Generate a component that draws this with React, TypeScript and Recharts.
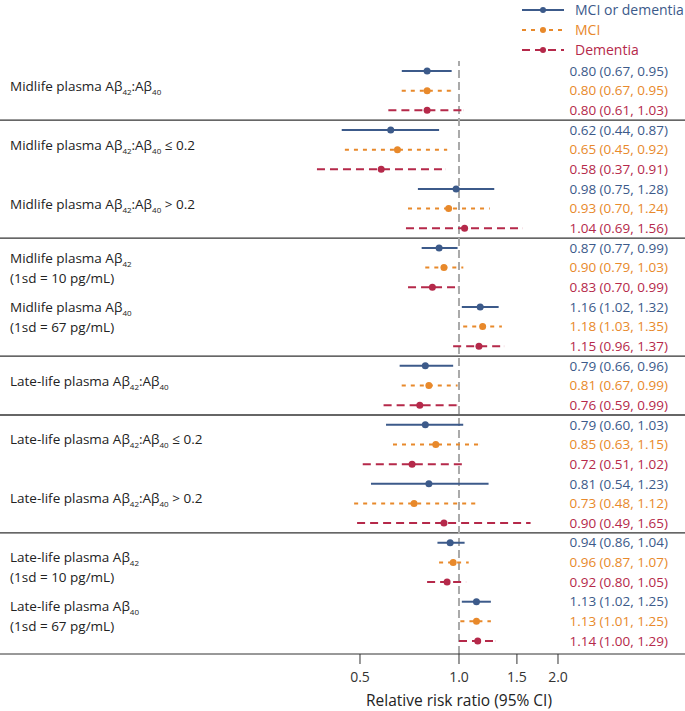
import React from 'react';
import { ScatterChart, Scatter, XAxis, YAxis, ErrorBar, ReferenceLine, Legend, Label } from 'recharts';

// "_42" marks a subscript, "\n" splits a label over two lines
const groupLabels = [
  'Midlife plasma Aβ_42:Aβ_40',
  'Midlife plasma Aβ_42:Aβ_40 ≤ 0.2',
  'Midlife plasma Aβ_42:Aβ_40 > 0.2',
  'Midlife plasma Aβ_42\n(1sd = 10 pg/mL)',
  'Midlife plasma Aβ_40\n(1sd = 67 pg/mL)',
  'Late-life plasma Aβ_42:Aβ_40',
  'Late-life plasma Aβ_42:Aβ_40 ≤ 0.2',
  'Late-life plasma Aβ_42:Aβ_40 > 0.2',
  'Late-life plasma Aβ_42\n(1sd = 10 pg/mL)',
  'Late-life plasma Aβ_40\n(1sd = 67 pg/mL)',
];

// [estimate, lower 95% CI, upper 95% CI]
const mciOrDementia = [
  [0.80, 0.67, 0.95], [0.62, 0.44, 0.87], [0.98, 0.75, 1.28], [0.87, 0.77, 0.99], [1.16, 1.02, 1.32],
  [0.79, 0.66, 0.96], [0.79, 0.60, 1.03], [0.81, 0.54, 1.23], [0.94, 0.86, 1.04], [1.13, 1.02, 1.25],
];
const mci = [
  [0.80, 0.67, 0.95], [0.65, 0.45, 0.92], [0.93, 0.70, 1.24], [0.90, 0.79, 1.03], [1.18, 1.03, 1.35],
  [0.81, 0.67, 0.99], [0.85, 0.63, 1.15], [0.73, 0.48, 1.12], [0.96, 0.87, 1.07], [1.13, 1.01, 1.25],
];
const dementia = [
  [0.80, 0.61, 1.03], [0.58, 0.37, 0.91], [1.04, 0.69, 1.56], [0.83, 0.70, 0.99], [1.15, 0.96, 1.37],
  [0.76, 0.59, 0.99], [0.72, 0.51, 1.02], [0.90, 0.49, 1.65], [0.92, 0.80, 1.05], [1.14, 1.00, 1.29],
];

const xTicks = [0.5, 1.0, 1.5, 2.0];
const sectionBreaks = [0, 2, 4, 5, 7]; // rule drawn below these groups

const FONT = "'Open Sans', sans-serif";
const LABEL_NUDGE = [0, 0, 0, 5, -5, 0, 0, 0, 10, 0]; // px, two-line labels sit a bit off-centre

const SERIES = [
  { name: 'MCI or dementia', rows: mciOrDementia, color: '#3c5a8a', dash: undefined as string | undefined, slot: 0 },
  { name: 'MCI', rows: mci, color: '#e8892b', dash: '4 5', slot: 1 },
  { name: 'Dementia', rows: dementia, color: '#b5294a', dash: '8 5', slot: 2 },
];

const toData = (rows: number[][], slot: number) =>
  rows.map(([rr, lo, hi], g) => ({
    x: rr,
    y: g * 3 + slot,
    err: [rr - lo, hi - rr],
    text: `${rr.toFixed(2)} (${lo.toFixed(2)}, ${hi.toFixed(2)})`,
  }));

// one invisible point per group, used only to place its row label
const labelData = groupLabels.map((label, g) => ({ x: 1, y: g * 3 + 1, g, label }));

const renderLine = (line: string, key: number, y: number) => {
  const parts = line.split(/_(\d+)/);
  return (
    <text key={key} x={10} y={y} dy="0.35em" fontSize={13.5} fill="#222">
      {parts.map((p, i) => {
        if (!p) return null;
        if (i % 2 === 1) return <tspan key={i} fontSize={8} dy={4}>{p}</tspan>;
        return <tspan key={i} dy={i > 0 ? -4 : 0}>{p}</tspan>;
      })}
    </text>
  );
};

const GroupLabel = (props: any) => {
  const { cy, payload } = props;
  const lines = payload.label.split('\n');
  const base = cy + LABEL_NUDGE[payload.g];
  if (lines.length === 1) return <g>{renderLine(lines[0], 0, base)}</g>;
  return <g>{lines.map((l: string, i: number) => renderLine(l, i, base + (i === 0 ? -10 : 10)))}</g>;
};

const LegendContent = () => (
  <div style={{ fontFamily: FONT, fontSize: 14, whiteSpace: 'nowrap' }}>
    {SERIES.map((s) => (
      <div key={s.name} style={{ display: 'flex', alignItems: 'center', height: 20 }}>
        <svg width={42} height={10} style={{ flex: 'none' }}>
          <line x1={0} x2={42} y1={5} y2={5} stroke={s.color} strokeWidth={2} strokeDasharray={s.dash} />
          <circle cx={21} cy={5} r={3} fill={s.color} />
        </svg>
        <span style={{ marginLeft: 11, color: s.color, lineHeight: '20px' }}>{s.name}</span>
      </div>
    ))}
  </div>
);

export default function App() {
  return (
    <div style={{ position: 'absolute', left: 0, top: 0 }}>
      <ScatterChart width={685} height={711} margin={{ top: 61, right: 0, bottom: 0, left: 0 }} style={{ fontFamily: FONT }}>
        <XAxis
          type="number"
          dataKey="x"
          scale="log"
          domain={[0.04022, 4.866]}
          allowDataOverflow
          ticks={xTicks}
          tickFormatter={(v: number) => v.toFixed(1)}
          height={57}
          tickSize={10}
          tickMargin={8}
          stroke="#333"
          tick={{ fill: '#333', fontSize: 14 }}
        >
          <Label
            content={() => (
              <text x={459} y={706} textAnchor="middle" fontSize={15.5} fill="#222">
                Relative risk ratio (95% CI)
              </text>
            )}
          />
        </XAxis>
        <YAxis type="number" dataKey="y" domain={[-0.51, 29.66]} reversed hide />
        <Legend
          layout="horizontal"
          verticalAlign="middle"
          align="center"
          wrapperStyle={{ left: 522, top: 0, width: 160 }}
          content={<LegendContent />}
        />
        {sectionBreaks.map((g) => (
          <ReferenceLine key={g} y={g * 3 + 2.5} stroke="#333" strokeWidth={1.3} />
        ))}
        <ReferenceLine x={1} stroke="#aaa" strokeWidth={2} strokeDasharray="8 4" />
        <Scatter name="labels" data={labelData} isAnimationActive={false} shape={<GroupLabel />} legendType="none" />
        {SERIES.map((s) => (
          <Scatter
            key={s.name}
            name={s.name}
            data={toData(s.rows, s.slot)}
            isAnimationActive={false}
            shape={(p: any) => (
              <g>
                <circle cx={p.cx} cy={p.cy} r={3.5} fill={s.color} />
                <text x={668} y={p.cy} dy="0.35em" textAnchor="end" fontSize={13.5} fill={s.color}>
                  {p.payload.text}
                </text>
              </g>
            )}
          >
            <ErrorBar
              dataKey="err"
              direction="x"
              width={0}
              stroke={s.color}
              strokeWidth={2}
              strokeDasharray={s.dash}
              isAnimationActive={false}
            />
          </Scatter>
        ))}
      </ScatterChart>
    </div>
  );
}
